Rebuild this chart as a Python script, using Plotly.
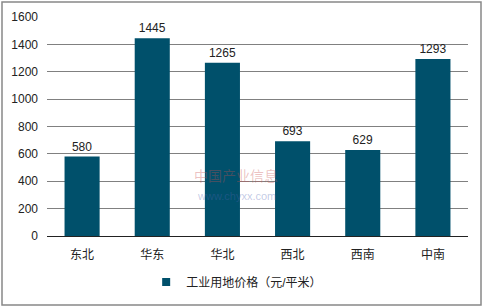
import plotly.graph_objects as go

categories = ["东北", "华东", "华北", "西北", "西南", "中南"]
values = [580, 1445, 1265, 693, 629, 1293]
series_name = "工业用地价格（元/平米）"
y_ticks = [0, 200, 400, 600, 800, 1000, 1200, 1400, 1600]

bar_color = "#00506B"
font_family = "Liberation Sans, Arial, Noto Sans CJK SC, sans-serif"

fig = go.Figure()
fig.add_trace(go.Bar(
    x=categories, y=values, name=series_name,
    marker=dict(color=bar_color, line=dict(width=0)),
    text=[str(v) for v in values], textposition="outside",
    textfont=dict(size=12, color="#222222"),
    cliponaxis=False,
    showlegend=False,
))
# legend entry with a small square marker
fig.add_trace(go.Scatter(
    x=[None], y=[None], mode="markers", name=series_name,
    marker=dict(symbol="square", size=8, color=bar_color),
    showlegend=True,
))

W, H = 483, 308
ml, mr, mt, mb = 47, 15, 17, 72
pw, ph = W - ml - mr, H - mt - mb

def px_x(p):
    return (p - ml) / pw

def px_y(p):
    return (H - mb - p) / ph

fig.update_layout(
    width=W, height=H,
    margin=dict(l=ml, r=mr, t=mt, b=mb, autoexpand=False),
    paper_bgcolor="white", plot_bgcolor="white",
    font=dict(family=font_family, size=12, color="#222222"),
    bargap=0.5,
    showlegend=True,
    legend=dict(orientation="h", xref="container", yref="container",
                x=0.49, xanchor="center", y=1 - 282 / H, yanchor="middle",
                bgcolor="rgba(0,0,0,0)",
                font=dict(size=12, color="#222222"),
                itemwidth=30, tracegroupgap=0),
    xaxis=dict(showline=True, linecolor="#222222", linewidth=1,
               ticks="", ticklabelstandoff=8,
               tickfont=dict(size=12, color="#222222"),
               showgrid=False),
    yaxis=dict(range=[0, 1600], tickvals=y_ticks, showgrid=True,
               gridcolor="#808080", gridwidth=1, zeroline=False,
               showline=False, ticks="", ticklabelstandoff=8,
               tickfont=dict(size=12, color="#222222")),
    shapes=[dict(type="rect", xref="paper", yref="paper",
                 x0=px_x(2), x1=px_x(481), y0=px_y(305), y1=px_y(2),
                 line=dict(color="#888888", width=1.5), layer="below")],
    annotations=[
        dict(text="中国产业信息", xref="paper", yref="paper",
             x=px_x(236), y=px_y(186), showarrow=False,
             font=dict(size=14, color="rgba(200,80,80,0.35)")),
        dict(text="www.chyxx.com", xref="paper", yref="paper",
             x=px_x(236), y=px_y(204), showarrow=False,
             font=dict(size=11, color="rgba(80,100,180,0.35)")),
    ],
)

fig.write_html("out.html")
